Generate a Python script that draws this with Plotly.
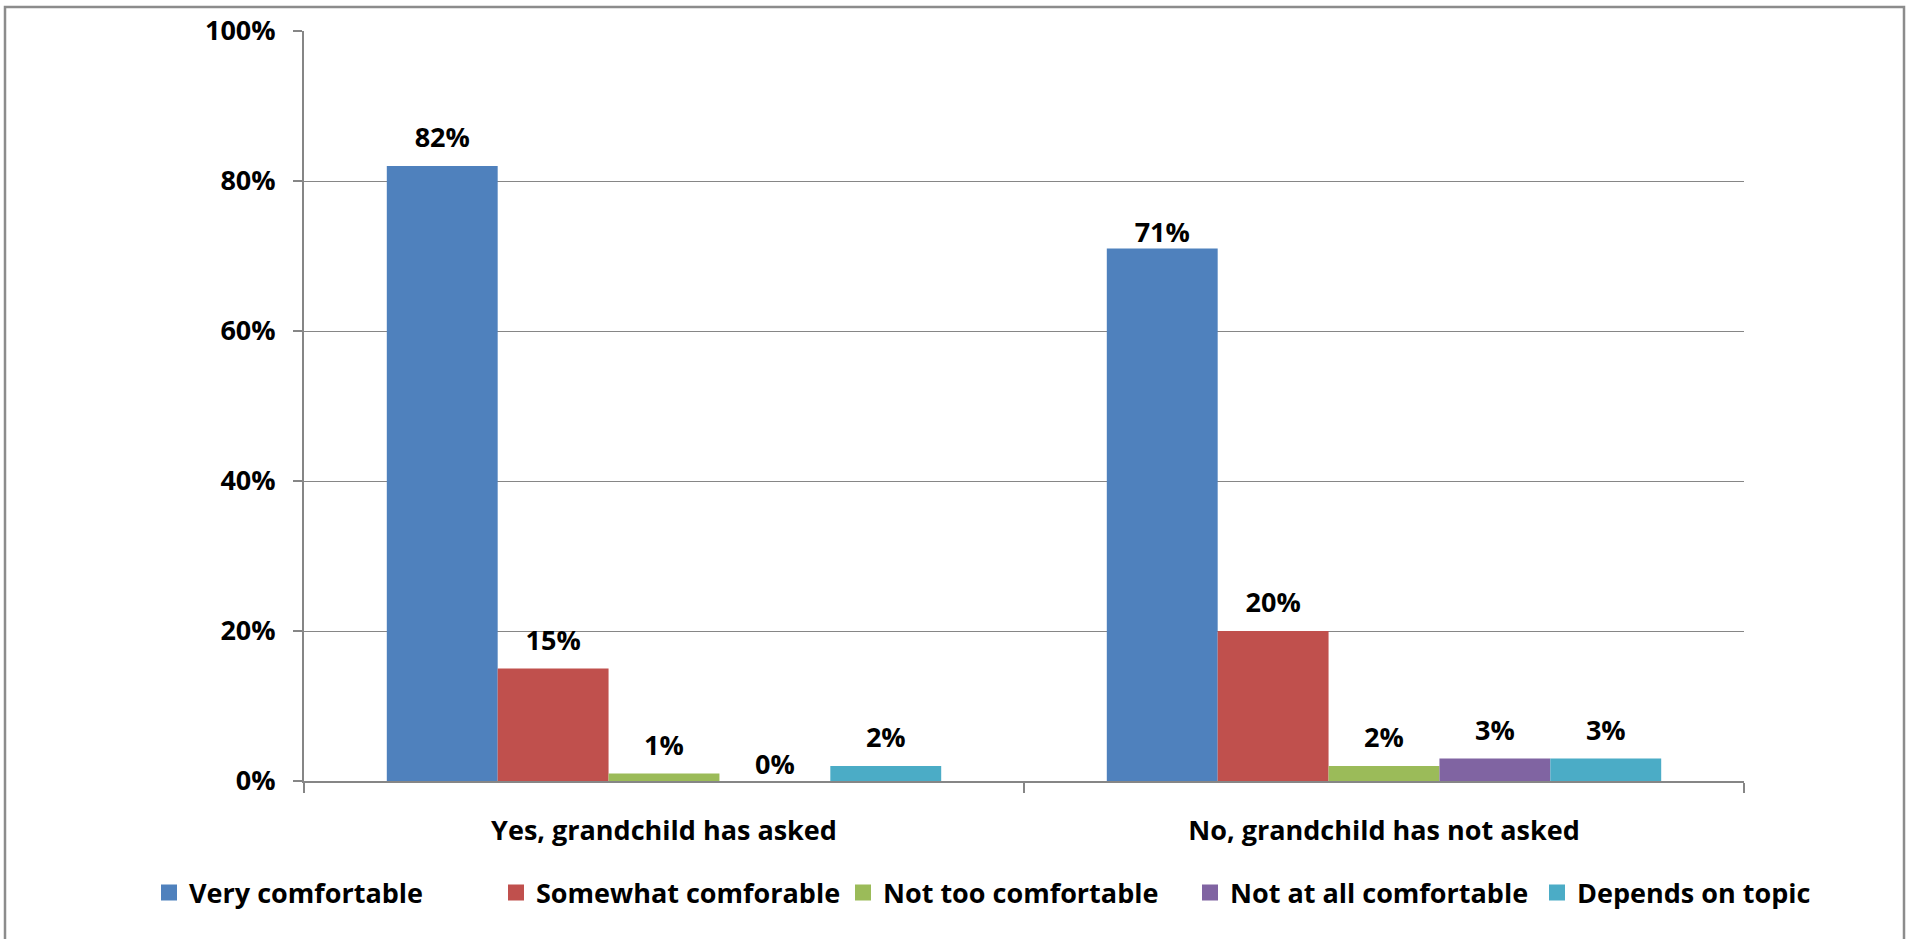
import plotly.graph_objects as go

categories = ["Yes, grandchild has asked", "No, grandchild has not asked"]
series_names = ["Very comfortable", "Somewhat comforable", "Not too comfortable",
                "Not at all comfortable", "Depends on topic"]
very = [82, 71]
somewhat = [15, 20]
not_too = [1, 2]
not_at_all = [0, 3]
depends = [2, 3]
series_values = [very, somewhat, not_too, not_at_all, depends]
colors = ["#4F81BD", "#C0504D", "#9BBB59", "#8064A2", "#4BACC6"]
y_ticks = [0, 20, 40, 60, 80, 100]
y_tick_labels = ["0%", "20%", "40%", "60%", "80%", "100%"]

# label offset (invisible marker size controls distance of label above bar)
label_gap = [[18, 0], [18, 18], [18, 18], [0, 18], [18, 18]]

FONT = "Open Sans"
FS = 27

fig = go.Figure()
for i, (name, vals, col) in enumerate(zip(series_names, series_values, colors)):
    fig.add_trace(go.Bar(
        x=categories, y=vals, name=name, marker_color=col,
        marker_line_width=0, offsetgroup=str(i), hoverinfo="skip",
        showlegend=False,
    ))
for i, (name, vals, col) in enumerate(zip(series_names, series_values, colors)):
    fig.add_trace(go.Scatter(
        x=categories, y=vals, mode="markers+text",
        text=[f"{v}%" for v in vals], textposition="top center",
        textfont=dict(family=FONT, size=FS, color="#000000", weight="bold"),
        marker=dict(size=label_gap[i], color="rgba(0,0,0,0)", opacity=0,
                    line=dict(width=0, color="rgba(0,0,0,0)")),
        offsetgroup=str(i), showlegend=False, hoverinfo="skip", cliponaxis=False,
    ))
# legend entries with square keys
for i, (name, col) in enumerate(zip(series_names, colors)):
    fig.add_trace(go.Scatter(
        x=[None], y=[None], mode="markers", name=name,
        marker=dict(symbol="square", size=16, color=col, line=dict(width=0)),
        offsetgroup=str(i), hoverinfo="skip", showlegend=True,
    ))

L, R, T, B = 304, 1744, 31, 781
W, H = 1910, 939
pw, ph = R - L, B - T

def px_x(x):
    return (x - L) / pw

def px_y(y):
    return (B - y) / ph

fig.update_layout(
    width=W, height=H,
    margin=dict(l=L, r=W - R, t=T, b=H - B, pad=0),
    barmode="group", bargap=0.23, bargroupgap=0,
    scattermode="group", scattergap=0.23,
    plot_bgcolor="white", paper_bgcolor="white",
    font=dict(family=FONT, size=FS, color="#000000", weight="bold"),
    showlegend=True,
    legend=dict(orientation="h", x=px_x(149), xanchor="left",
                y=px_y(893), yanchor="middle",
                font=dict(family=FONT, size=FS, color="#000000", weight="bold"),
                entrywidth=302, itemwidth=30, traceorder="normal"),
    xaxis=dict(showline=True, linecolor="#868686", linewidth=2,
               ticks="outside", tickson="boundaries", ticklen=10,
               tickcolor="#868686", tickwidth=1.5,
               ticklabelstandoff=25, showgrid=False, zeroline=False,
               tickfont=dict(family=FONT, size=FS, color="#000000", weight="bold")),
    yaxis=dict(range=[0, 100], tickvals=y_ticks, ticktext=y_tick_labels,
               showline=True, linecolor="#868686", linewidth=2,
               ticks="outside", ticklen=9, tickcolor="#868686", tickwidth=1.5,
               ticklabelstandoff=12,
               showgrid=True, gridcolor="#868686", gridwidth=1.2, zeroline=False,
               tickfont=dict(family=FONT, size=FS, color="#000000", weight="bold")),
    shapes=[dict(type="rect", xref="paper", yref="paper",
                 x0=px_x(5), x1=px_x(1904), y0=px_y(960), y1=px_y(7),
                 line=dict(color="#8C8C8C", width=2.5), layer="below")],
)

fig.write_html("out.html", config={"displayModeBar": False},
               post_script="document.body.style.margin='0';")
